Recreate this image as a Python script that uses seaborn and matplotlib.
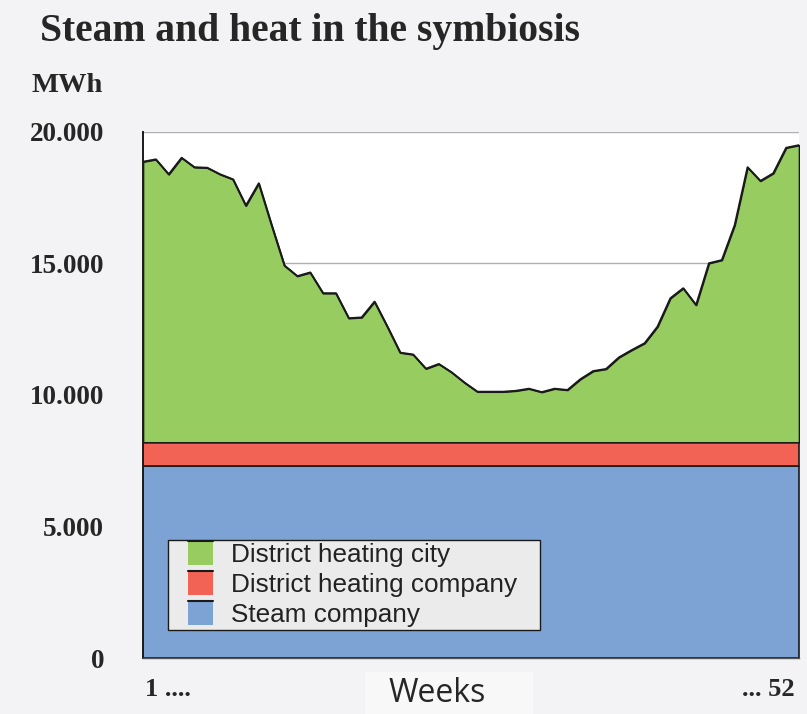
import numpy as np
import pandas as pd
import matplotlib
matplotlib.use("Agg")
import matplotlib.pyplot as plt
import seaborn as sns
from matplotlib.patches import Patch, Rectangle
from matplotlib.lines import Line2D

# --- data ---
weeks = list(range(1, 53))
total_top = [
    18870, 18960, 18390, 19020, 18660, 18640, 18390, 18200, 17200, 18050,
    16460, 14920, 14520, 14660, 13870, 13870, 12920, 12950, 13550, 12600,
    11610, 11540, 11000, 11180, 10860, 10470, 10125, 10125, 10125, 10160,
    10240, 10110, 10240, 10190, 10600, 10910, 10990, 11430, 11710, 11970,
    12600, 13680, 14060, 13420, 15010, 15130, 16460, 18660, 18140, 18430,
    19400, 19500,
]
steam_company = [7300] * 52
heating_company = [900] * 52
series_names = ["District heating city", "District heating company", "Steam company"]
ytick_vals = [0, 5000, 10000, 15000, 20000]
ytick_labels = ["0", "5.000", "10.000", "15.000", "20.000"]

df = pd.DataFrame({"week": weeks, "top": total_top,
                   "steam": steam_company, "company": heating_company})
df["city"] = df["top"] - df["steam"] - df["company"]

bg = "#f3f3f5"
colors = {"Steam company": "#7da3d5",
          "District heating company": "#f26355",
          "District heating city": "#97cc60"}


class TopLineHandler:
    # coloured square with a dark line along its top edge, like the reference
    def legend_artist(self, legend, orig_handle, fontsize, handlebox):
        x0, y0 = -handlebox.xdescent, -handlebox.ydescent
        w, h = handlebox.width, handlebox.height
        tr = handlebox.get_transform()
        patch = Rectangle((x0, y0), w, h, facecolor=orig_handle.get_facecolor(),
                          edgecolor="none", transform=tr)
        line = Line2D([x0, x0 + w], [y0 + h, y0 + h], color="#1a1a1a",
                      linewidth=1.5, transform=tr)
        handlebox.add_artist(patch)
        handlebox.add_artist(line)
        return patch


sns.set_style("white")
plt.rcParams["font.family"] = ["Liberation Serif", "DejaVu Serif"]

fig = plt.figure(figsize=(8.07, 7.14), dpi=100, facecolor=bg)
ax = fig.add_axes([143 / 807, 1 - 658 / 714, 656 / 807, 526 / 714])
ax.set_facecolor("white")

ax.stackplot(df["week"], df["steam"], df["company"], df["city"],
             colors=[colors["Steam company"], colors["District heating company"],
                     colors["District heating city"]],
             edgecolor="#1a1a1a", linewidth=1.2, zorder=2)
sns.lineplot(data=df, x="week", y="top", color="#1a1a1a", linewidth=1.4, ax=ax, zorder=3)

ax.set_xlim(1, 52)
ax.set_ylim(0, 20000)
for yv in [15000, 20000]:
    ax.axhline(yv, color="#b0b0b0", linewidth=1.0, zorder=1)

ax.set_yticks(ytick_vals)
ax.set_yticklabels(ytick_labels, fontsize=19.5, fontweight="bold")
ax.tick_params(axis="y", length=4, width=0.8, color="#999999", pad=24)
ax.set_xticks(weeks, minor=True)
ax.set_xticks([])
ax.tick_params(axis="x", which="minor", length=4, width=0.8, color="#aaaaaa", direction="out")
ax.set_xlabel("")
ax.set_ylabel("")

for side in ["top", "right"]:
    ax.spines[side].set_visible(False)
ax.spines["left"].set_color("#1a1a1a")
ax.spines["left"].set_linewidth(1.4)
ax.spines["bottom"].set_color("#555555")
ax.spines["bottom"].set_linewidth(1.0)

# legend frame drawn by hand so the side padding can differ from the top/bottom
ax.add_patch(Rectangle((168 / 807, 1 - 630 / 714), 372 / 807, 90 / 714,
                       transform=fig.transFigure, facecolor="#ebebeb",
                       edgecolor="#1a1a1a", linewidth=1.0, zorder=4))
handles = [Patch(facecolor=colors[n]) for n in series_names]
leg = ax.legend(handles, series_names, loc="upper left",
                bbox_to_anchor=(188 / 807, 1 - 541 / 714),
                bbox_transform=fig.transFigure, frameon=False,
                prop={"family": "Liberation Sans", "size": 18.8},
                handlelength=0.95, handleheight=1.05, handletextpad=0.7,
                labelspacing=0.15, borderpad=0, borderaxespad=0,
                handler_map={Patch: TopLineHandler()})
leg.set_zorder(5)
for t in leg.get_texts():
    t.set_color("#222222")

fig.text(40 / 807, 1 - 32 / 714, "Steam and heat in the symbiosis",
         fontsize=28.5, fontweight="bold", va="center", ha="left")
fig.text(103 / 807, 1 - 85 / 714, "MWh", fontsize=20.5, fontweight="bold",
         va="center", ha="right")
fig.text(145 / 807, 1 - 690 / 714, "1 ....", fontsize=19, fontweight="bold",
         va="center", ha="left")
fig.text(795 / 807, 1 - 690 / 714, "... 52", fontsize=19, fontweight="bold",
         va="center", ha="right")
fig.patches.append(Rectangle((365 / 807, 0), 168 / 807, 42 / 714,
                             transform=fig.transFigure, facecolor="#f8f8f8",
                             edgecolor="none", zorder=0))
fig.text(437 / 807, 1 - 694 / 714, "Weeks", fontsize=23, family="Open Sans",
         va="center", ha="center")

fig.savefig("out.png", dpi=100, facecolor=bg)
